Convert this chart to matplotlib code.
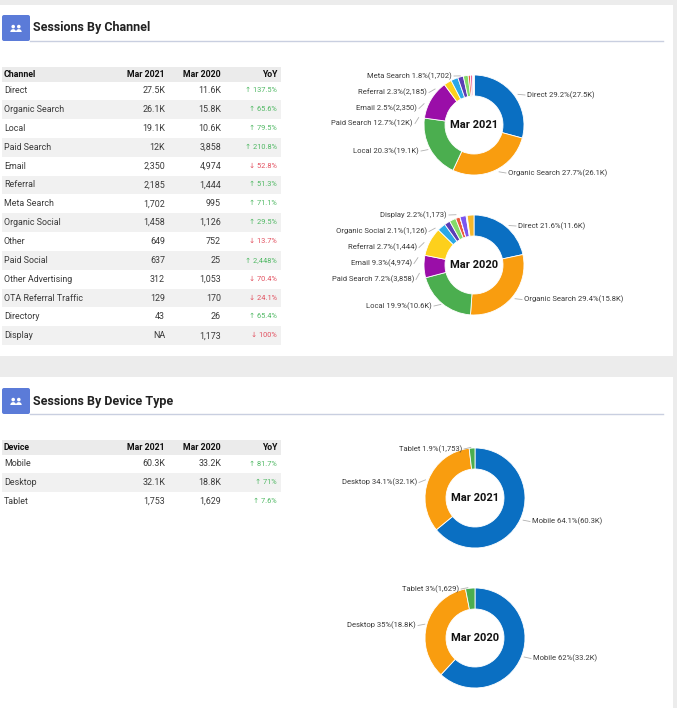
import matplotlib
matplotlib.use('Agg')
import matplotlib.pyplot as plt
from matplotlib.patches import Rectangle, FancyBboxPatch, Circle, Wedge
import numpy as np

plt.rcParams['font.family'] = ['Roboto', 'DejaVu Sans']

# ---------------- data ----------------
channels = ['Direct', 'Organic Search', 'Local', 'Paid Search', 'Email', 'Referral',
            'Meta Search', 'Organic Social', 'Other', 'Paid Social', 'Other Advertising',
            'OTA Referral Traffic', 'Directory', 'Display']
ch_2021 = [27500, 26100, 19100, 12000, 2350, 2185, 1702, 1458, 649, 637, 312, 129, 43, None]
ch_2020 = [11600, 15800, 10600, 3858, 4974, 1444, 995, 1126, 752, 25, 1053, 170, 26, 1173]
ch_yoy = [137.5, 65.6, 79.5, 210.8, -52.8, 51.3, 71.1, 29.5, -13.7, 2448, -70.4, -24.1, 65.4, -100]
ch_pct_2021 = [29.2, 27.7, 20.3, 12.7, 2.5, 2.3, 1.8, None, None, None, None, None, None, None]
ch_pct_2020 = [21.6, 29.4, 19.9, 7.2, 9.3, 2.7, None, 2.1, None, None, None, None, None, 2.2]

devices = ['Mobile', 'Desktop', 'Tablet']
dev_2021 = [60300, 32100, 1753]
dev_2020 = [33200, 18800, 1629]
dev_yoy = [81.7, 71, 7.6]
dev_pct_2021 = [64.1, 34.1, 1.9]
dev_pct_2020 = [62, 35, 3]

period_labels = ['Mar 2021', 'Mar 2020']

# ---------------- style / layout ----------------
ch_colors = ['#0a6fc2', '#f99d0f', '#4bae4f', '#9a0ea8', '#fdd01c', '#2aa8e6', '#5b3db5',
             '#84da6a', '#ea5a3d', '#f06b9a', '#7b55f0', '#90a4ae', '#ba68c8', '#f6b82b']
dev_colors = ['#0a6fc2', '#f99d0f', '#4bae4f']

W, H = 677, 708
fig = plt.figure(figsize=(W / 100, H / 100), dpi=100)
fig.patch.set_facecolor('#ececec')

bg = fig.add_axes([0, 0, 1, 1])
bg.set_xlim(0, W)
bg.set_ylim(H, 0)
bg.axis('off')
bg.set_zorder(0)

GREEN = '#4fb863'
RED = '#e2505f'
TXT = '#3a3a3a'


def fmt_val(v):
    if v is None:
        return 'NA'
    if v >= 10000:
        return f"{v / 1000:.1f}".rstrip('0').rstrip('.') + 'K'
    return f"{v:,}"


def fmt_yoy(p):
    arrow = '\u2191' if p >= 0 else '\u2193'
    return f"{arrow} {abs(p):,g}%"


def panel(y0, y1):
    bg.add_patch(Rectangle((0, y0), 673, y1 - y0, facecolor='white', edgecolor='none', zorder=0))


def header(y_top, title):
    bg.add_patch(FancyBboxPatch((2, y_top), 28, 26, boxstyle='round,pad=0,rounding_size=2',
                                facecolor='#5b7bd8', edgecolor='none', zorder=1))
    cx, cy = 16, y_top + 14
    for dx in (-2.8, 2.8):
        bg.add_patch(Circle((cx + dx, cy - 2.4), 1.8, facecolor='white', edgecolor='none', zorder=2))
        bg.add_patch(Wedge((cx + dx, cy + 3.0), 2.9, 180, 360, facecolor='white', edgecolor='none', zorder=2))
    bg.plot([30, 663], [y_top + 25.5, y_top + 25.5], color='#c9cfe0', lw=1.0, zorder=1)
    bg.text(33, y_top + 13, title, fontsize=9, fontweight='bold', color='#222222',
            ha='left', va='center', zorder=3)


def table(y_head, first_row, pitch, name_col, names, v21, v20, yoy):
    bg.add_patch(Rectangle((2, y_head - 7.3), 279, 14.6, facecolor='#ebebeb', edgecolor='none', zorder=1))
    cols = [(4, 'left', name_col), (165, 'right', period_labels[0]),
            (221, 'right', period_labels[1]), (277, 'right', 'YoY')]
    for x, ha, t in cols:
        bg.text(x, y_head, t, fontsize=6.3, fontweight='bold', color='#111111', ha=ha, va='center', zorder=3)
    for i, n in enumerate(names):
        y = first_row + i * pitch
        if i % 2 == 1:
            bg.add_patch(Rectangle((2, y - pitch / 2), 279, pitch, facecolor='#f1f1f1',
                                   edgecolor='none', zorder=1))
        bg.text(4, y, n, fontsize=6.4, color=TXT, ha='left', va='center', zorder=3)
        bg.text(165, y, fmt_val(v21[i]), fontsize=6.4, color=TXT, ha='right', va='center', zorder=3)
        bg.text(221, y, fmt_val(v20[i]), fontsize=6.4, color=TXT, ha='right', va='center', zorder=3)
        bg.text(277, y, fmt_yoy(yoy[i]), fontsize=5.3, color=GREEN if yoy[i] >= 0 else RED,
                ha='right', va='center', zorder=3)


def donut(cx, cy, names, values, pcts, colors, center_label, label_pos):
    ax = fig.add_axes([(cx - 50) / W, 1 - (cy + 50) / H, 100 / W, 100 / H])
    ax.set_zorder(2)
    vals = [v if v is not None else 0 for v in values]
    wedges, _ = ax.pie(vals, colors=colors[:len(vals)], startangle=90, counterclock=False, radius=1,
                       wedgeprops=dict(width=0.42, edgecolor='white', linewidth=0.6))
    ax.set_xlim(-1, 1)
    ax.set_ylim(-1, 1)
    ax.set_aspect('equal')
    ax.axis('off')
    ax.text(0, 0, center_label, fontsize=8, fontweight='bold', color='#111111', ha='center', va='center')
    for i, (lx, ly) in label_pos.items():
        w = wedges[i]
        mid = np.deg2rad((w.theta1 + w.theta2) / 2)
        sx, sy = 1.02 * np.cos(mid), 1.02 * np.sin(mid)
        side = 1 if lx > 0 else -1
        ex, ey = lx - side * 0.04, ly
        d = np.hypot(sx - ex, sy - ey)
        L = min(0.14, d)
        if d > 0:
            px, py = ex + (sx - ex) * L / d, ey + (sy - ey) * L / d
            ax.plot([px, ex], [py, ey], color='#b0b0b0', lw=0.6, clip_on=False)
        txt = f"{names[i]} {pcts[i]:g}%({fmt_val(values[i])})"
        ax.text(lx, ly, txt, fontsize=5.5, color=TXT, ha='left' if side > 0 else 'right',
                va='center', clip_on=False)


# ---------------- panels ----------------
panel(5, 356)
panel(377, H)

header(15, 'Sessions By Channel')
header(388, 'Sessions By Device Type')

table(74.5, 90.7, 18.85, 'Channel', channels, ch_2021, ch_2020, ch_yoy)
table(447.7, 464.0, 18.6, 'Device', devices, dev_2021, dev_2020, dev_yoy)

lab_ch21 = {0: (1.06, 0.60), 1: (0.68, -0.96), 2: (-1.10, -0.52), 3: (-1.22, 0.03),
            4: (-1.14, 0.33), 5: (-0.94, 0.65), 6: (-0.44, 0.98)}
lab_ch20 = {0: (0.88, 0.78), 1: (1.00, -0.69), 2: (-0.84, -0.82), 3: (-1.20, -0.29),
            4: (-1.24, 0.03), 5: (-1.14, 0.35), 7: (-0.94, 0.67), 13: (-0.54, 1.00)}
lab_dev21 = {2: (-0.26, 0.98), 1: (-1.16, 0.31), 0: (1.14, -0.47)}
lab_dev20 = {2: (-0.32, 0.98), 1: (-1.18, 0.25), 0: (1.16, -0.41)}

donut(474, 125, channels, ch_2021, ch_pct_2021, ch_colors, period_labels[0], lab_ch21)
donut(474, 265, channels, ch_2020, ch_pct_2020, ch_colors, period_labels[1], lab_ch20)
donut(475, 498, devices, dev_2021, dev_pct_2021, dev_colors, period_labels[0], lab_dev21)
donut(475, 638, devices, dev_2020, dev_pct_2020, dev_colors, period_labels[1], lab_dev20)

fig.savefig('out.png', dpi=100, facecolor=fig.get_facecolor())
